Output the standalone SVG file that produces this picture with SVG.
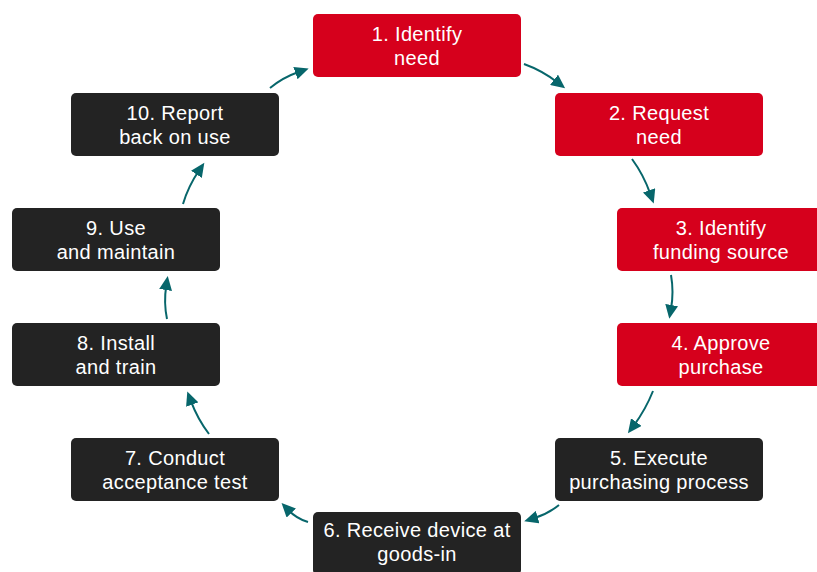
<svg xmlns="http://www.w3.org/2000/svg" width="817" height="572" viewBox="0 0 817 572">
  <style>
    .box-red { fill: #d6001c; }
    .box-dark { fill: #232323; }
    .label { fill: #ffffff; font-family: "Liberation Sans", Arial, Helvetica, sans-serif; font-size: 20px; letter-spacing: 0.35px; text-anchor: middle; }
    .conn { fill: none; stroke: #07666b; stroke-width: 2; marker-end: url(#arrow); }
  </style>
  <defs>
    <marker id="arrow" markerUnits="userSpaceOnUse" markerWidth="15" markerHeight="13" refX="4" refY="6.5" orient="auto">
      <path d="M0,0 L14,6.5 L0,13 z" fill="#07666b"/>
    </marker>
  </defs>
  <rect width="817" height="572" fill="#ffffff"/>

  <!-- connectors, clockwise around the cycle -->
  <g id="connectors">
    <path class="conn" d="M524,64 Q542,70.5 557.2,82.2"/>
    <path class="conn" d="M632,159 Q643.7,175 650.4,194.1"/>
    <path class="conn" d="M671,275 Q674,292 671,309"/>
    <path class="conn" d="M653,391 Q645.7,409.4 633.9,425.3"/>
    <path class="conn" d="M559,505 Q547.5,514.2 533.8,518.3"/>
    <path class="conn" d="M308,522 Q296.6,518.6 288.5,510.2"/>
    <path class="conn" d="M209,434 Q197.4,418.5 190.8,400.8"/>
    <path class="conn" d="M167,319 Q163.6,302.5 166.2,286"/>
    <path class="conn" d="M183,204 Q188.3,186.2 198.7,171"/>
    <path class="conn" d="M270,88 Q283,77.4 299.2,71.8"/>
  </g>

  <g id="step1">
    <rect class="box-red" x="313" y="14" width="208" height="63" rx="5"/>
    <text class="label" x="417" y="41">1. Identify</text>
    <text class="label" x="417" y="65">need</text>
  </g>
  <g id="step2">
    <rect class="box-red" x="555" y="93" width="208" height="63" rx="5"/>
    <text class="label" x="659" y="120">2. Request</text>
    <text class="label" x="659" y="144">need</text>
  </g>
  <g id="step3">
    <rect class="box-red" x="617" y="208" width="208" height="63" rx="5"/>
    <text class="label" x="721" y="235">3. Identify</text>
    <text class="label" x="721" y="259">funding source</text>
  </g>
  <g id="step4">
    <rect class="box-red" x="617" y="323" width="208" height="63" rx="5"/>
    <text class="label" x="721" y="350">4. Approve</text>
    <text class="label" x="721" y="374">purchase</text>
  </g>
  <g id="step5">
    <rect class="box-dark" x="555" y="438" width="208" height="63" rx="5"/>
    <text class="label" x="659" y="465">5. Execute</text>
    <text class="label" x="659" y="489">purchasing process</text>
  </g>
  <g id="step6">
    <rect class="box-dark" x="313" y="512" width="208" height="63" rx="5"/>
    <text class="label" x="417" y="537">6. Receive device at</text>
    <text class="label" x="417" y="561">goods-in</text>
  </g>
  <g id="step7">
    <rect class="box-dark" x="71" y="438" width="208" height="63" rx="5"/>
    <text class="label" x="175" y="465">7. Conduct</text>
    <text class="label" x="175" y="489">acceptance test</text>
  </g>
  <g id="step8">
    <rect class="box-dark" x="12" y="323" width="208" height="63" rx="5"/>
    <text class="label" x="116" y="350">8. Install</text>
    <text class="label" x="116" y="374">and train</text>
  </g>
  <g id="step9">
    <rect class="box-dark" x="12" y="208" width="208" height="63" rx="5"/>
    <text class="label" x="116" y="235">9. Use</text>
    <text class="label" x="116" y="259">and maintain</text>
  </g>
  <g id="step10">
    <rect class="box-dark" x="71" y="93" width="208" height="63" rx="5"/>
    <text class="label" x="175" y="120">10. Report</text>
    <text class="label" x="175" y="144">back on use</text>
  </g>
</svg>
